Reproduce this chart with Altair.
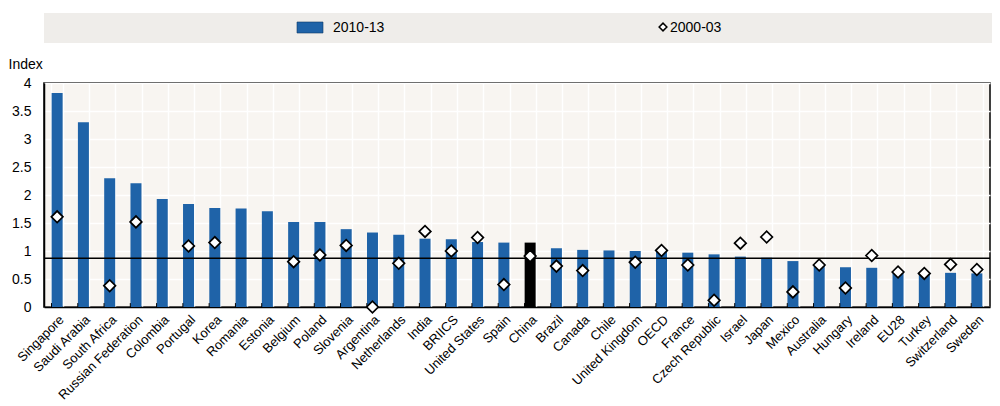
import altair as alt
import pandas as pd

countries = ["Singapore", "Saudi Arabia", "South Africa", "Russian Federation", "Colombia",
             "Portugal", "Korea", "Romania", "Estonia", "Belgium", "Poland", "Slovenia",
             "Argentina", "Netherlands", "India", "BRIICS", "United States", "Spain", "China",
             "Brazil", "Canada", "Chile", "United Kingdom", "OECD", "France", "Czech Republic",
             "Israel", "Japan", "Mexico", "Australia", "Hungary", "Ireland", "EU28", "Turkey",
             "Switzerland", "Sweden"]
v2010 = [3.82, 3.30, 2.30, 2.21, 1.93, 1.84, 1.77, 1.76, 1.71, 1.52, 1.52, 1.39,
         1.33, 1.29, 1.22, 1.21, 1.16, 1.15, 1.15, 1.05, 1.02, 1.01, 1.00, 0.99,
         0.97, 0.94, 0.90, 0.88, 0.82, 0.75, 0.71, 0.70, 0.64, 0.61, 0.61, 0.60]
v2000 = [1.61, None, 0.38, 1.52, None, 1.09, 1.15, None, None, 0.81, 0.93, 1.10,
         0.00, 0.78, 1.35, 1.00, 1.24, 0.40, 0.91, 0.73, 0.65, None, 0.80, 1.01,
         0.75, 0.12, 1.14, 1.25, 0.27, 0.75, 0.34, 0.92, 0.625, 0.60, 0.76, 0.67]
reference_line = [0.87]
y_ticks = [0, 0.5, 1, 1.5, 2, 2.5, 3, 3.5, 4]
legend_labels = ["2010-13", "2000-03"]

FONT = "Liberation Sans, Arial, Helvetica, sans-serif"
BLUE = "#1f63a8"

df = pd.DataFrame({"country": countries, "v2010": v2010, "v2000": v2000})
df["hl"] = df["country"].eq("China")

xscale = alt.Scale(paddingInner=0.57, paddingOuter=0.285)
xaxis = alt.Axis(title=None, labelAngle=-45, labelFontSize=13, labelColor="black",
                 labelFont=FONT, labelPadding=6, labelOverlap=False, ticks=False,
                 domainColor="black", domainWidth=1.5, grid=True, gridColor="white",
                 gridWidth=1.5, tickBand="extent")
yscale = alt.Scale(domain=[0, 4], nice=False)
yaxis = alt.Axis(values=y_ticks, format=".1~f", title="Index", titleAngle=0,
                 titleAlign="left", titleBaseline="alphabetic", titleX=-36, titleY=-15,
                 titleFontWeight="normal", titleFontSize=14, titleFont=FONT,
                 titleColor="black", labelFontSize=14, labelFont=FONT, labelColor="black",
                 labelPadding=13, labelOverlap=False, labelFlush=False, ticks=False,
                 domainColor="black", domainWidth=1.5, grid=True, gridColor="white",
                 gridWidth=1.5)

base = alt.Chart(df)

bars = base.mark_bar(size=11).encode(
    x=alt.X("country:N", sort=countries, scale=xscale, axis=xaxis),
    y=alt.Y("v2010:Q", scale=yscale, axis=yaxis, title="Index"),
    color=alt.condition("datum.hl", alt.value("black"), alt.value(BLUE)),
)

ticks = base.mark_rule(color="black", strokeWidth=1).encode(
    x=alt.X("country:N", sort=countries, bandPosition=0, scale=xscale, axis=xaxis),
    y=alt.Y(datum=0, scale=yscale, axis=yaxis, title="Index"),
    y2=alt.Y2(datum=0.07),
)

ref = alt.Chart(pd.DataFrame({"r": reference_line})).mark_rule(
    color="black", strokeWidth=1.5).encode(
    y=alt.Y("r:Q", scale=yscale, axis=yaxis, title="Index"))

pts = base.transform_filter("isValid(datum.v2000)").mark_point(
    shape="diamond", filled=True, fill="white", stroke="black", strokeWidth=1.7,
    size=135, opacity=1).encode(
    x=alt.X("country:N", sort=countries, scale=xscale, axis=xaxis),
    y=alt.Y("v2000:Q", scale=yscale, axis=yaxis, title="Index"))

one = pd.DataFrame({"a": [0]})
leg_band = alt.Chart(one).mark_rect(color="#efedea").encode(
    x=alt.value(0), x2=alt.value(948), y=alt.value(-70), y2=alt.value(-40))
leg_swatch = alt.Chart(one).mark_rect(color=BLUE, stroke="#0d3a66", strokeWidth=0.6).encode(
    x=alt.value(253), x2=alt.value(279), y=alt.value(-61), y2=alt.value(-50))
leg_text1 = alt.Chart(one).mark_text(align="left", baseline="middle", fontSize=14,
                                     font=FONT, color="black").encode(
    x=alt.value(289), y=alt.value(-55), text=alt.value(legend_labels[0]))
leg_diamond = alt.Chart(one).mark_point(shape="diamond", filled=True, fill="white",
                                        stroke="black", strokeWidth=1.5, size=60,
                                        opacity=1).encode(
    x=alt.value(619), y=alt.value(-56))
leg_text2 = alt.Chart(one).mark_text(align="left", baseline="middle", fontSize=14,
                                     font=FONT, color="black").encode(
    x=alt.value(626), y=alt.value(-55), text=alt.value(legend_labels[1]))

chart = alt.layer(
    bars, ticks, ref, pts, leg_band, leg_swatch, leg_text1, leg_diamond, leg_text2
).properties(
    width=946, height=224,
    autosize=alt.AutoSizeParams(type="none"),
    padding={"left": 36, "top": 75, "right": 2, "bottom": 98},
).configure_view(
    fill="#f8f5f1", stroke="black", strokeWidth=1.5
)

chart.save("out.html", embed_options={"renderer": "svg", "actions": False})
